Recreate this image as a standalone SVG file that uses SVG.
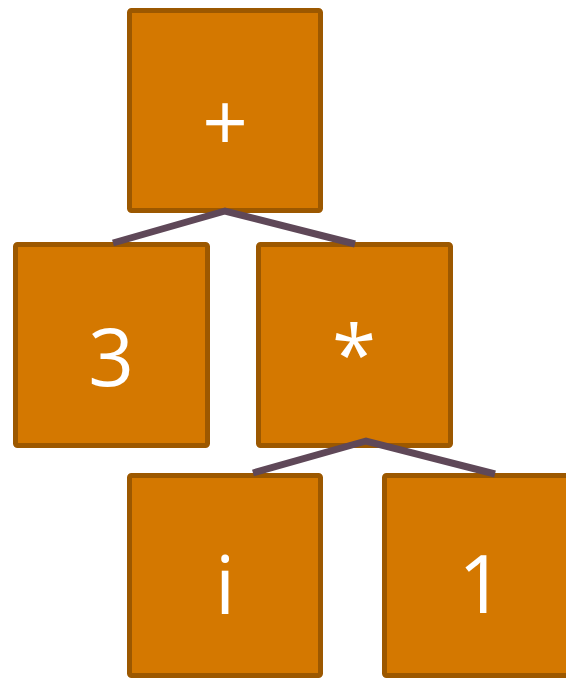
<svg xmlns="http://www.w3.org/2000/svg" width="566" height="678" viewBox="0 0 566 678">
<style>
.box{fill:#d47800;stroke:#9c5800;stroke-width:5}
.lbl{fill:#ffffff;font-family:"Open Sans","Noto Sans",sans-serif;font-size:80px;text-anchor:middle}
.edge{stroke:#5f4858;stroke-width:7;fill:none;stroke-linejoin:miter}
</style>
<rect width="566" height="678" fill="#ffffff"/>
<g id="n-plus"><rect class="box" x="129.5" y="10.5" width="191" height="200" rx="2"/><text class="lbl" x="225" y="151">+</text></g>
<g id="n-3"><rect class="box" x="15.5" y="244.5" width="192" height="201" rx="2"/><text class="lbl" x="111" y="386">3</text></g>
<g id="n-mul"><rect class="box" x="258.5" y="244.5" width="192" height="201" rx="2"/><text class="lbl" x="354" y="383">*</text></g>
<g id="n-i"><rect class="box" x="129.5" y="475.5" width="191" height="200" rx="2"/><text class="lbl" x="225" y="614">i</text></g>
<g id="n-1"><rect class="box" x="384.5" y="475.5" width="191" height="200" rx="2"/><text class="lbl" x="481" y="613">1</text></g>
<g id="connectors">
<path class="edge" d="M113,243 L225,211 L355,244"/>
<path class="edge" d="M253,473 L366,441 L495,474"/>
</g>
</svg>
